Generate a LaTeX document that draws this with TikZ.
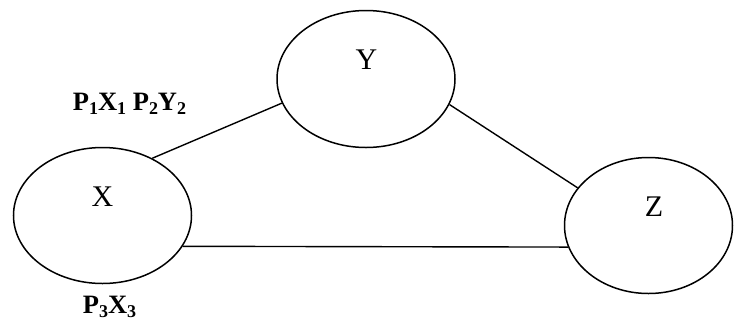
\documentclass[tikz,border=0pt]{standalone}
\usepackage{fontspec}
\setmainfont{Liberation Serif}
\usetikzlibrary{shapes.geometric}
\newcommand{\lsub}[1]{\raisebox{-0.28ex}{\fontsize{18}{18}\selectfont #1}}
\begin{document}
\begin{tikzpicture}[x=1pt,y=-1pt,
  ell/.style={draw,ellipse,line width=1.5pt,inner sep=0pt},
  lett/.style={font=\fontsize{30}{30}\selectfont,inner sep=0pt},
  lab/.style={font=\fontsize{26.5}{26.5}\selectfont\bfseries,inner sep=0pt},
  conn/.style={line width=1.4pt}]
\useasboundingbox (0,0) rectangle (734,325);
\node[ell,minimum width=178pt,minimum height=136pt] (X) at (102.5,215.5) {};
\node[ell,minimum width=178pt,minimum height=137pt] (Y) at (366,79) {};
\node[ell,minimum width=168pt,minimum height=136pt] (Z) at (648.5,225.5) {};
\node[lett] (tX) at (102.5,197) {X};
\node[lett] (tY) at (366.5,60) {Y};
\node[lett] (tZ) at (654,207) {Z};
\draw[conn] (X.49.8) -- (Y.196.5);
\draw[conn] (Y.343.4) -- (Z.152.6);
\draw[conn] (X.339.9) -- (Z.195.4);
\node[lab] (l1) at (129.5,104) {P\lsub{1}X\lsub{1} P\lsub{2}Y\lsub{2}};
\node[lab] (l2) at (109.5,307) {P\lsub{3}X\lsub{3}};
\end{tikzpicture}
\end{document}
